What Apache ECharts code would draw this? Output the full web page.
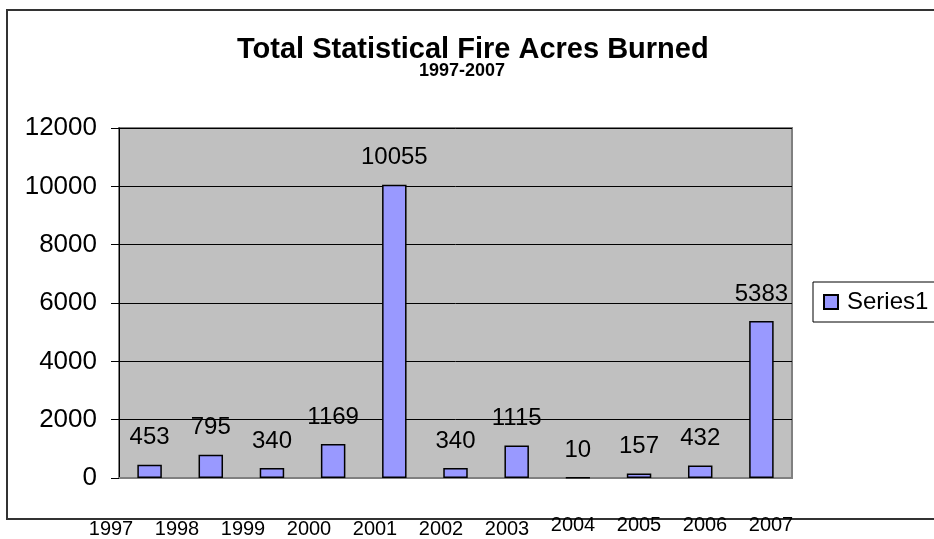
<!DOCTYPE html>
<html>
<head>
<meta charset="utf-8">
<script src="https://cdn.jsdelivr.net/npm/echarts@6/dist/echarts.min.js"></script>
<style>html,body{margin:0;padding:0;background:#fff}#c{width:934px;height:539px}</style>
</head>
<body>
<div id="c"></div>
<script>
var categories = ['1997','1998','1999','2000','2001','2002','2003','2004','2005','2006','2007'];
var acres = [453, 795, 340, 1169, 10055, 340, 1115, 10, 157, 432, 5383];
var yTicks = [0, 2000, 4000, 6000, 8000, 10000, 12000];
var raisedYears = ['2004','2005','2006','2007'];
var seriesName = 'Series1';

var FONT = '"Liberation Sans", Arial, sans-serif';
var chart = echarts.init(document.getElementById('c'));
chart.setOption({
  animation: false,
  backgroundColor: '#fff',
  title: [
    {text: 'Total Statistical Fire Acres Burned', left: 232, top: 30,
     textStyle: {fontFamily: FONT, fontSize: 29, fontWeight: 'bold', color: '#000'}},
    {text: '1997-2007', left: 414, top: 57,
     textStyle: {fontFamily: FONT, fontSize: 18, fontWeight: 'bold', color: '#000'}}
  ],
  graphic: [{
    type: 'rect', z: -10, silent: true,
    shape: {x: 7, y: 10, width: 1000, height: 509},
    style: {fill: 'none', stroke: '#333', lineWidth: 2}
  }],
  legend: {
    data: [seriesName], left: 813, top: 282,
    orient: 'vertical',
    backgroundColor: '#fff', borderColor: '#000', borderWidth: 1, borderRadius: 0,
    padding: [8, 40, 8, 10],
    itemWidth: 14, itemHeight: 14, icon: 'rect',
    textStyle: {fontFamily: FONT, fontSize: 24, color: '#000', padding: [0, 0, 0, 4]}
  },
  grid: [
    {left: 119, top: 128, right: 142, bottom: 61, show: true,
     backgroundColor: '#C0C0C0', borderColor: '#808080', borderWidth: 2},
    {left: 78, top: 128, right: 130, bottom: 24, show: false}
  ],
  xAxis: [
    {type: 'category', data: categories, gridIndex: 0,
     axisLine: {show: true, lineStyle: {color: '#808080', width: 2}},
     axisTick: {show: false}, axisLabel: {show: false}},
    {type: 'category', data: categories.map(function (c) {
        return {value: c, textStyle: {padding: raisedYears.indexOf(c) >= 0 ? [0,0,0,0] : [4,0,0,0]}};
      }),
     gridIndex: 1,
     axisLine: {show: false}, axisTick: {show: false},
     axisLabel: {fontFamily: FONT, fontSize: 20, color: '#000', margin: 0, interval: 0}}
  ],
  yAxis: [
    {type: 'value', gridIndex: 0, min: yTicks[0], max: yTicks[yTicks.length - 1], interval: 2000,
     axisLine: {show: true, lineStyle: {color: '#000', width: 1}},
     axisTick: {show: true, inside: false, length: 8, lineStyle: {color: '#000'}},
     axisLabel: {fontFamily: FONT, fontSize: 26, color: '#000', margin: 22,
                 formatter: function (v) { return String(v); }},
     splitLine: {show: true, lineStyle: {color: '#000', width: 1}}},
    {type: 'value', gridIndex: 1, show: false}
  ],
  series: [{
    name: seriesName, type: 'bar', data: acres, xAxisIndex: 0, yAxisIndex: 0,
    barWidth: '40%',
    itemStyle: {color: '#9999FF', borderColor: '#000', borderWidth: 1.5},
    label: {show: true, position: 'top', distance: 15,
            fontFamily: FONT, fontSize: 24, color: '#000'}
  }]
});
</script>
</body>
</html>
